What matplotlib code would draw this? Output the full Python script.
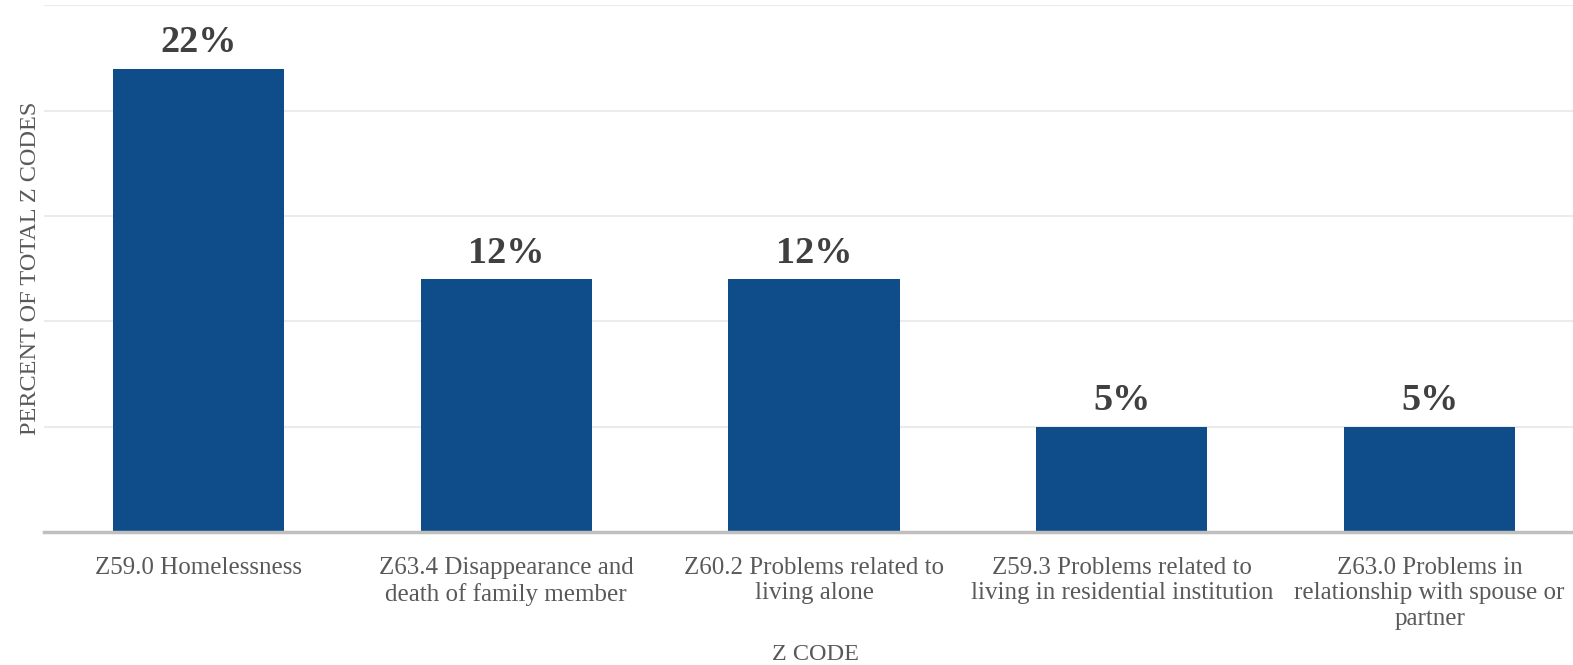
import numpy as np
import matplotlib.pyplot as plt

# chart data
codes = [
    "Z59.0 Homelessness",
    "Z63.4 Disappearance and\ndeath of family member",
    "Z60.2 Problems related to\nliving alone",
    "Z59.3 Problems related to\nliving in residential institution",
    "Z63.0 Problems in\nrelationship with spouse or\npartner",
]
percents = [22, 12, 12, 5, 5]
grid_ticks = [5, 10, 15, 20, 25]

plt.rcParams['font.family'] = ['Liberation Serif', 'DejaVu Serif']

fig = plt.figure(figsize=(15.73, 6.65), dpi=100)
ax = fig.add_axes([44 / 1573, 133 / 665, 1 - 44 / 1573, 527 / 665])

x = np.arange(len(codes))
ax.bar(x, percents, width=0.556, color='#0F4D8A', zorder=3)

# value labels above bars
for xi, v in zip(x, percents):
    ax.annotate(f"{v}%", (xi, v), xytext=(0, 6), textcoords='offset points',
                ha='center', va='bottom', fontsize=27.5, fontweight='bold',
                color='#404040')

ax.set_xlim(-0.502, 4.466)
ax.set_ylim(0, 25.02)
ax.set_yticks(grid_ticks)
ax.set_yticklabels([])
ax.tick_params(axis='y', length=0)
ax.grid(axis='y', color='#EBEBEB', linewidth=1.5, zorder=0)

ax.set_xticks(x)
ax.set_xticklabels(codes, fontsize=18, color='#595959', linespacing=1.2)
ax.tick_params(axis='x', length=0, pad=18)

for side in ['top', 'right', 'left']:
    ax.spines[side].set_visible(False)
ax.spines['bottom'].set_color('#BFBFBF')
ax.spines['bottom'].set_linewidth(2.5)
ax.spines['bottom'].set_zorder(4)

ax.set_ylabel("PERCENT OF TOTAL Z CODES", fontsize=17.5, color='#595959',
              va='center')
ax.yaxis.set_label_coords(-(44 - 31) / 1529, 0.5)
ax.set_xlabel("Z CODE", fontsize=17.5, color='#595959', va='center')
ax.xaxis.set_label_coords((815 - 44) / 1529, -(654 - 532) / 527)

fig.savefig('out.png', dpi=100)
